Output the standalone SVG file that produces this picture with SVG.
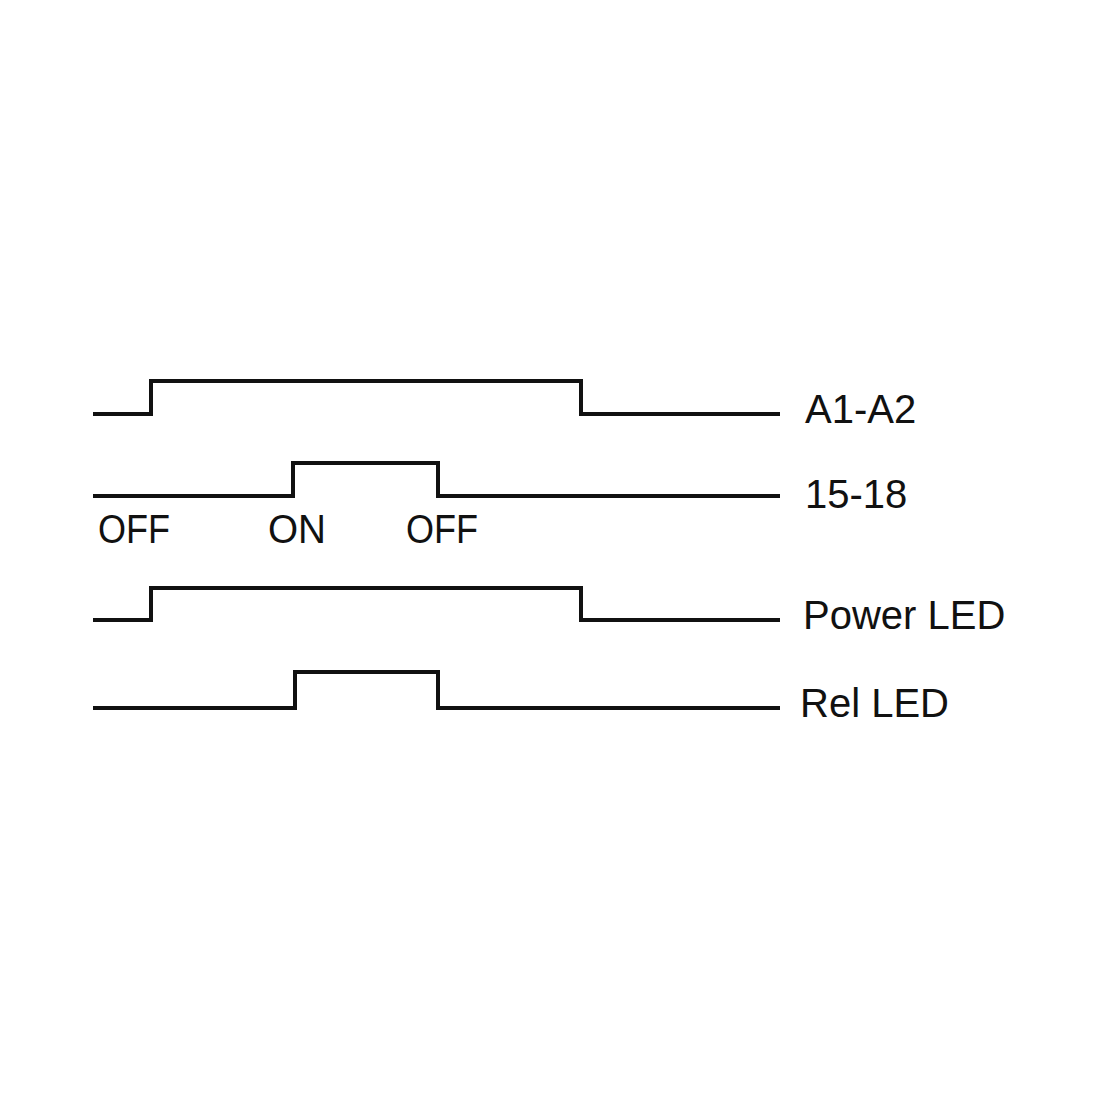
<svg xmlns="http://www.w3.org/2000/svg" width="1100" height="1100" viewBox="0 0 1100 1100">
<style>
.w{fill:none;stroke:#111;stroke-width:4;stroke-linejoin:miter}
.t{font-family:"Liberation Sans",Arial,sans-serif;font-size:40px;fill:#111}
</style>
<rect width="1100" height="1100" fill="#fff"/>
<g id="connectors">
<polyline class="w" points="93,414 151,414 151,381 581,381 581,414 780,414"/>
<polyline class="w" points="93,496 293,496 293,463 438,463 438,496 780,496"/>
<polyline class="w" points="93,620 151,620 151,588 581,588 581,620 780,620"/>
<polyline class="w" points="93,708 295,708 295,672 438,672 438,708 780,708"/>
</g>
<g id="labels">
<text class="t" x="805" y="423">A1-A2</text>
<text class="t" x="805" y="508">15-18</text>
<text class="t" x="803" y="629">Power LED</text>
<text class="t" x="800" y="717">Rel LED</text>
<text class="t" x="98" y="543" textLength="72" lengthAdjust="spacingAndGlyphs">OFF</text>
<text class="t" x="268" y="543" textLength="58" lengthAdjust="spacingAndGlyphs">ON</text>
<text class="t" x="406" y="543" textLength="72" lengthAdjust="spacingAndGlyphs">OFF</text>
</g>
</svg>
